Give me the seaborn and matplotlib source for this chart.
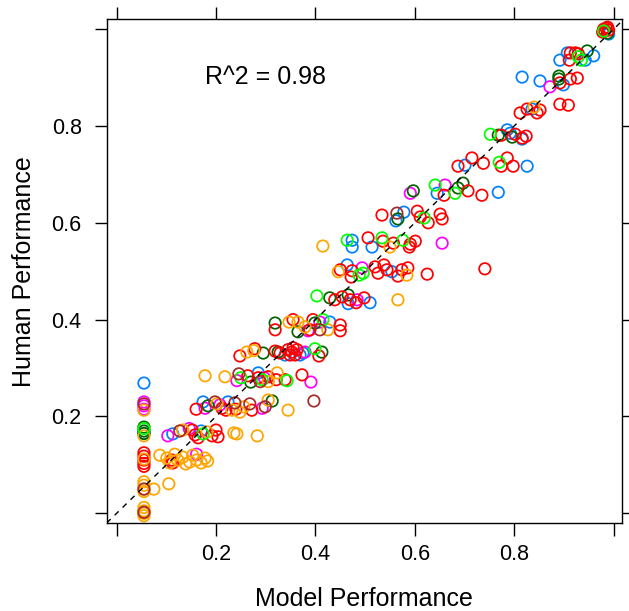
import matplotlib
matplotlib.use("Agg")
import matplotlib.pyplot as plt
import seaborn as sns
import pandas as pd

# model performance (x) / human performance (y), one pair of lists per group
blue_x = [0.055, 0.055, 0.113, 0.170, 0.174, 0.224, 0.285, 0.339, 0.369, 0.375, 0.429, 0.466, 0.510,
          0.464, 0.554, 0.474, 0.474, 0.514, 0.578, 0.562, 0.645, 0.768, 0.701, 0.826, 0.786, 0.792,
          0.816, 0.836, 0.816, 0.852, 0.899, 0.892, 0.907, 0.943, 0.960, 0.990]
blue_y = [0.269, 0.165, 0.164, 0.170, 0.230, 0.230, 0.290, 0.327, 0.327, 0.331, 0.395, 0.433, 0.435,
          0.513, 0.499, 0.564, 0.550, 0.550, 0.622, 0.604, 0.661, 0.663, 0.719, 0.717, 0.792, 0.785,
          0.773, 0.835, 0.901, 0.893, 0.885, 0.936, 0.951, 0.936, 0.945, 0.990]

magenta_x = [0.055, 0.055, 0.055, 0.161, 0.103, 0.146, 0.178, 0.208, 0.293, 0.242, 0.297, 0.391,
             0.379, 0.385, 0.409, 0.484, 0.494, 0.655, 0.591, 0.661, 0.872]
magenta_y = [0.230, 0.222, 0.215, 0.122, 0.160, 0.175, 0.217, 0.224, 0.217, 0.274, 0.280, 0.271,
             0.333, 0.377, 0.395, 0.441, 0.507, 0.558, 0.661, 0.678, 0.881]

dkgreen_x = [0.055, 0.055, 0.055, 0.184, 0.313, 0.270, 0.295, 0.325, 0.413, 0.319, 0.365, 0.399,
             0.429, 0.466, 0.566, 0.597, 0.697, 0.687, 0.768, 0.796, 0.890, 0.890, 0.947, 0.988]
dkgreen_y = [0.178, 0.170, 0.165, 0.222, 0.232, 0.271, 0.331, 0.333, 0.333, 0.393, 0.375, 0.393,
             0.445, 0.451, 0.608, 0.666, 0.682, 0.672, 0.781, 0.777, 0.897, 0.903, 0.955, 0.992]

red_x = [0.055, 0.055, 0.055, 0.055, 0.055, 0.055,
         0.111, 0.113, 0.152, 0.158, 0.164, 0.192, 0.204, 0.200,
         0.160, 0.212, 0.220, 0.240, 0.272,
         0.264, 0.285, 0.305, 0.321, 0.339, 0.373,
         0.248, 0.278, 0.319, 0.329, 0.345, 0.353, 0.359, 0.363, 0.349, 0.355, 0.407,
         0.319, 0.355, 0.389, 0.395, 0.450, 0.450,
         0.439, 0.454, 0.470, 0.482, 0.498,
         0.450, 0.474, 0.472, 0.520, 0.526, 0.538, 0.544, 0.566, 0.574, 0.586, 0.625, 0.741,
         0.506, 0.536, 0.557, 0.589, 0.601, 0.591,
         0.534, 0.605, 0.611, 0.627, 0.651, 0.655,
         0.659, 0.707, 0.735,
         0.687, 0.715, 0.738, 0.774, 0.786, 0.798,
         0.774, 0.802, 0.816, 0.824,
         0.812, 0.826, 0.852, 0.846, 0.892, 0.909,
         0.892, 0.913, 0.927,
         0.913, 0.923, 0.911, 0.929,
         0.980, 0.985, 0.990, 0.982, 0.988, 0.978]
red_y = [0.125, 0.118, 0.110, 0.103, 0.097, 0.003,
         0.110, 0.104, 0.172, 0.162, 0.156, 0.160, 0.158, 0.172,
         0.215, 0.217, 0.213, 0.215, 0.213,
         0.284, 0.280, 0.282, 0.276, 0.276, 0.286,
         0.325, 0.340, 0.335, 0.331, 0.338, 0.333, 0.327, 0.338, 0.327, 0.342, 0.325,
         0.379, 0.400, 0.379, 0.400, 0.389, 0.377,
         0.441, 0.447, 0.441, 0.435, 0.445,
         0.503, 0.501, 0.488, 0.509, 0.496, 0.513, 0.503, 0.490, 0.503, 0.507, 0.494, 0.505,
         0.569, 0.562, 0.558, 0.550, 0.562, 0.556,
         0.616, 0.624, 0.612, 0.600, 0.618, 0.608,
         0.657, 0.666, 0.657,
         0.717, 0.734, 0.723, 0.717, 0.734, 0.717,
         0.781, 0.783, 0.775, 0.779,
         0.827, 0.835, 0.833, 0.827, 0.845, 0.843,
         0.889, 0.897, 0.899,
         0.951, 0.951, 0.936, 0.949,
         1.000, 1.002, 0.998, 0.996, 1.004, 0.994]

orange_x = [0.055, 0.055, 0.055, 0.055, 0.055, 0.055, 0.055, 0.055, 0.055, 0.055, 0.055,
            0.087, 0.101, 0.117, 0.123, 0.133, 0.147, 0.153, 0.161, 0.178, 0.170, 0.107, 0.139,
            0.183, 0.075, 0.105,
            0.133, 0.182, 0.236, 0.242, 0.283,
            0.202, 0.232, 0.248, 0.256, 0.305, 0.345,
            0.178, 0.218, 0.323, 0.305,
            0.262, 0.276,
            0.347, 0.379, 0.425, 0.365,
            0.566, 0.446, 0.584, 0.415, 0.550, 0.840]
orange_y = [0.213, 0.160, 0.112, 0.065, 0.058, 0.050, 0.045, 0.012, 0.005, 0.000, -0.005,
            0.120, 0.114, 0.122, 0.110, 0.116, 0.106, 0.120, 0.110, 0.114, 0.104, 0.104, 0.102,
            0.108, 0.050, 0.061,
            0.172, 0.168, 0.166, 0.164, 0.160,
            0.226, 0.213, 0.209, 0.220, 0.234, 0.213,
            0.284, 0.282, 0.290, 0.272,
            0.333, 0.336,
            0.395, 0.385, 0.379, 0.395,
            0.441, 0.499, 0.492, 0.552, 0.550, 0.839]

green_x = [0.055, 0.174, 0.250, 0.293, 0.343, 0.399, 0.415, 0.403, 0.488, 0.496, 0.464, 0.534,
           0.576, 0.619, 0.641, 0.681, 0.770, 0.752, 0.929, 0.935, 0.980]
green_y = [0.175, 0.164, 0.280, 0.276, 0.274, 0.340, 0.400, 0.449, 0.492, 0.496, 0.564, 0.569,
           0.564, 0.610, 0.678, 0.661, 0.725, 0.783, 0.943, 0.936, 0.996]

brown_x = [0.055, 0.055, 0.055, 0.127, 0.198, 0.238, 0.268, 0.299, 0.397, 0.246, 0.289, 0.409, 0.564]
brown_y = [0.226, 0.050, 0.002, 0.170, 0.230, 0.228, 0.226, 0.220, 0.232, 0.288, 0.272, 0.379, 0.620]

groups = [("1", blue_x, blue_y), ("2", magenta_x, magenta_y), ("3", dkgreen_x, dkgreen_y),
          ("4", red_x, red_y), ("5", orange_x, orange_y), ("6", green_x, green_y),
          ("7", brown_x, brown_y)]
# lattice default superpose colours
palette = {"1": "#0080ff", "2": "#ff00ff", "3": "darkgreen", "4": "#ff0000",
           "5": "orange", "6": "#00ff00", "7": "brown"}

df = pd.concat([pd.DataFrame({"model": gx, "human": gy, "group": g}) for g, gx, gy in groups],
               ignore_index=True)

sns.set_style("ticks")
plt.rcParams["font.family"] = ["Liberation Sans", "DejaVu Sans"]
plt.rcParams["text.color"] = "black"
plt.rcParams["axes.labelcolor"] = "black"

fig = plt.figure(figsize=(6.29, 6.11), dpi=100)
ax = fig.add_axes([0.1696, 0.1435, 0.8193, 0.8254])

sns.scatterplot(data=df, x="model", y="human", hue="group", palette=palette,
                s=68, linewidth=1.25, legend=False, ax=ax)
# hollow circles like R's pch=1
pts = ax.collections[0]
pts.set_edgecolors(pts.get_facecolors())
pts.set_facecolors("none")

ax.axline((0, 0), (1, 1), color="black", ls=(0, (4, 4)), lw=1)
ax.text(0.2986, 0.901, "R^2 = 0.98", ha="center", va="center", fontsize=18, color="black")

ticks = [0, 0.2, 0.4, 0.6, 0.8, 1.0]
ticklabels = ["", "0.2", "0.4", "0.6", "0.8", ""]
ax.set_xticks(ticks)
ax.set_xticklabels(ticklabels)
ax.set_yticks(ticks)
ax.set_yticklabels(ticklabels)
ax.set_xlim(-0.020, 1.017)
ax.set_ylim(-0.0207, 1.021)
ax.tick_params(direction="out", length=9, width=1, top=True, right=True,
               labelsize=15.5, colors="black")
ax.tick_params(axis="x", pad=6)
ax.tick_params(axis="y", pad=9)
for sp in ax.spines.values():
    sp.set_visible(True)
    sp.set_linewidth(1)
    sp.set_color("black")

ax.set_xlabel("Model Performance", fontsize=18, labelpad=16)
ax.set_ylabel("Human Performance", fontsize=18, labelpad=11)

fig.savefig("out.png", dpi=100)
